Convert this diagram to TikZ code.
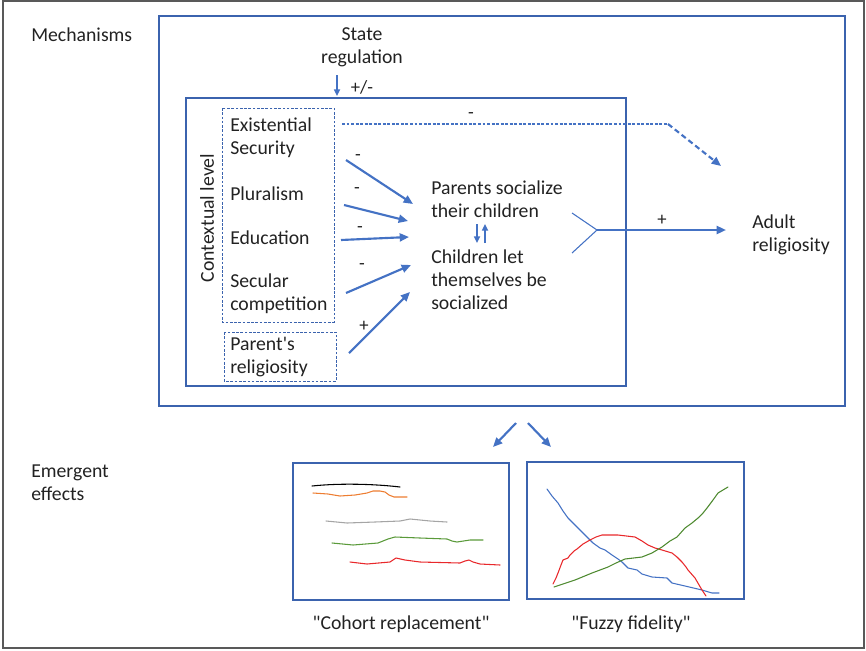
\documentclass[tikz,border=0pt]{standalone}
\usepackage{fontspec}
\newfontfamily\calfont{Carlito}
\usetikzlibrary{arrows.meta}
\definecolor{lblue}{HTML}{4472C4}
\definecolor{bblue}{HTML}{3B63AE}
\definecolor{txt}{HTML}{222222}
\definecolor{corange}{HTML}{ED7D31}
\definecolor{cgray}{HTML}{A5A5A5}
\definecolor{cgreen}{HTML}{5A9A3A}
\definecolor{cred}{HTML}{E8282B}
\definecolor{cgreen2}{HTML}{4E8A30}
\begin{document}
\begin{tikzpicture}[x=0.75pt,y=-0.75pt,
  lbl/.style={font=\calfont\fontsize{14.8}{17.4}\selectfont,text=txt,inner sep=0pt,align=left},
  sgn/.style={font=\calfont\fontsize{14}{16}\selectfont,text=txt,inner sep=0pt},
  boxline/.style={draw=bblue,line width=0.8pt},
  dbox/.style={draw=bblue,line width=0.7pt,dash pattern=on 2pt off 1.2pt},
  bigarrow/.style={draw=lblue,line width=1.6pt,-{Triangle[length=7pt,width=6pt]}},
  smallarrow/.style={draw=lblue,line width=1.2pt,-{Triangle[length=5pt,width=4.5pt]}},
  curve/.style={line width=0.8pt,line join=round,line cap=round}
]
\useasboundingbox (0,0) rectangle (866,650);
% frames
\draw[draw=black!65,line width=0.8pt] (3,1) rectangle (864,648);
\draw[boxline] (159,16) rectangle (845,406);
\draw[boxline] (186,98) rectangle (626,386);
\draw[dbox] (222,108) rectangle (334,322);
\draw[dbox] (224,332) rectangle (336,381);

% texts
\node[lbl,anchor=west] (mechanisms) at (31,35) {Mechanisms};
\node[lbl,anchor=west] (emergent) at (31,483) {Emergent\\effects};
\node[lbl,align=center] (state) at (362,47) {State\\regulation};
\node[lbl,rotate=90] (ctx) at (207,218) {Contextual level};
\node[lbl,anchor=west] (exist) at (230,138) {Existential\\Security};
\node[lbl,anchor=west] (plural) at (230,194) {Pluralism};
\node[lbl,anchor=west] (educ) at (230,238) {Education};
\node[lbl,anchor=west] (secular) at (230,294) {Secular\\competition};
\node[lbl,anchor=west] (parent) at (230,357) {Parent's\\religiosity};
\node[lbl,anchor=west] (psoc) at (431,199) {Parents socialize\\their children};
\node[lbl,anchor=west] (clet) at (431,280) {Children let\\themselves be\\socialized};
\node[lbl,anchor=west] (adult) at (752,235) {Adult\\religiosity};
\node[lbl] (cohortlbl) at (401,624) {"Cohort replacement"};
\node[lbl] (fuzzylbl) at (631,624) {"Fuzzy fidelity"};

% state regulation arrow
\coordinate (sr1) at (337,75);
\coordinate (sr2) at (337,96);
\draw[smallarrow] (sr1) -- (sr2);
\node[sgn] (pm) at (362,87) {+/-};

% dashed path
\coordinate (d1) at (342,124);
\coordinate (d2) at (668,124);
\coordinate (d3) at (721,166);
\draw[draw=lblue,line width=0.8pt,dash pattern=on 2.2pt off 1.2pt] (d1) -- (d2);
\draw[draw=lblue,line width=1.6pt,dash pattern=on 4pt off 2.5pt,-{Triangle[length=7pt,width=6pt]}] (d2) -- (d3);
\node[sgn] (dm) at (471,116) {-};

% influence arrows
\coordinate (a1s) at (346,160); \coordinate (a1e) at (413,204);
\coordinate (a2s) at (344,205); \coordinate (a2e) at (408,221);
\coordinate (a3s) at (341,240); \coordinate (a3e) at (409,237);
\coordinate (a4s) at (346,293); \coordinate (a4e) at (411,265);
\coordinate (a5s) at (349,353); \coordinate (a5e) at (410,292);
\draw[bigarrow] (a1s) -- (a1e);
\draw[bigarrow] (a2s) -- (a2e);
\draw[bigarrow] (a3s) -- (a3e);
\draw[bigarrow] (a4s) -- (a4e);
\draw[bigarrow] (a5s) -- (a5e);
\node[sgn] (m1) at (358,158) {-};
\node[sgn] (m2) at (357,191) {-};
\node[sgn] (m3) at (360,230) {-};
\node[sgn] (m4) at (362,267) {-};
\node[sgn] (p5) at (364,326) {+};

% mutual arrows
\coordinate (u1) at (477,224); \coordinate (u2) at (477,243);
\coordinate (v1) at (485,243); \coordinate (v2) at (485,224);
\draw[smallarrow] (u1) -- (u2);
\draw[smallarrow] (v1) -- (v2);

% fork and main arrow
\coordinate (f1) at (572,213);
\coordinate (f2) at (572,253);
\coordinate (fj) at (597,230);
\coordinate (fe) at (726,230);
\draw[draw=lblue,line width=0.8pt] (f1) -- (fj) -- (f2);
\draw[bigarrow] (fj) -- (fe);
\node[sgn] (pp) at (662,220) {+};

% bottom arrows
\coordinate (b1s) at (516,423); \coordinate (b1e) at (493,447);
\coordinate (b2s) at (528,423); \coordinate (b2e) at (551,447);
\draw[bigarrow] (b1s) -- (b1e);
\draw[bigarrow] (b2s) -- (b2e);

% emergent boxes
\draw[boxline] (293,463) rectangle (509,600);
\draw[boxline] (527,462) rectangle (744,599);

% cohort curves
\draw[curve,draw=black] (312,486) .. controls (340,483) and (375,484) .. (400,487);
\draw[curve,draw=corange] (313,493) -- (328,494) -- (340,496) -- (355,495) -- (367,493) -- (373,491) -- (380,491) -- (385,492) -- (389,495) -- (394,497) -- (407,497);
\draw[curve,draw=cgray] (326,521) -- (347,523) -- (375,522) -- (400,521) -- (410,519) -- (420,520) -- (430,521) -- (447,522);
\draw[curve,draw=cgreen] (332,543) -- (353,545) -- (378,543) -- (388,539) -- (395,537) -- (420,538) -- (447,539) -- (452,541) -- (457,542) -- (470,540) -- (483,540);
\draw[curve,draw=cred] (350,562) -- (367,564) -- (390,562) -- (396,558) -- (405,560) -- (420,562) -- (460,563) -- (465,561) -- (469,560) -- (473,562) -- (480,564) -- (500,565);

% fuzzy curves
\draw[curve,draw=lblue] (547,489) -- (552,496) -- (558,503) -- (563,511) -- (568,518) -- (575,525) -- (582,532) -- (588,538) -- (593,543) -- (600,548) -- (605,550) -- (612,555) -- (618,559) -- (622,562) -- (628,568) -- (637,570) -- (642,574) -- (652,577) -- (667,578) -- (672,583) -- (685,586) -- (702,590) -- (712,593) -- (719,593);
\draw[curve,draw=cred] (553,584) -- (556,578) -- (558,573) -- (561,565) -- (563,560) -- (568,558) -- (570,555) -- (572,553) -- (574,551) -- (577,549) -- (583,544) -- (590,540) -- (596,537) -- (602,535) -- (618,535) -- (635,537) -- (642,541) -- (648,545) -- (655,548) -- (662,550) -- (672,553) -- (677,557) -- (682,562) -- (686,567) -- (688,570) -- (695,578) -- (702,590) -- (706,596);
\draw[curve,draw=cgreen2] (554,587) -- (575,580) -- (592,573) -- (608,567) -- (616,563) -- (625,559) -- (642,557) -- (652,553) -- (657,550) -- (662,547) -- (670,541) -- (677,537) -- (685,528) -- (692,523) -- (698,518) -- (703,513) -- (707,508) -- (713,500) -- (718,493) -- (728,487);
\end{tikzpicture}
\end{document}
